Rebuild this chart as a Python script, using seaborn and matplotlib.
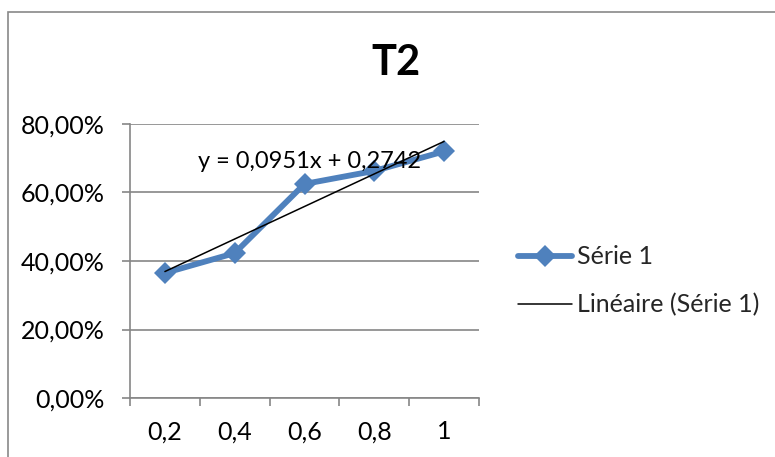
import matplotlib
matplotlib.use("Agg")
import matplotlib.pyplot as plt
import matplotlib.patches as mpatches
from matplotlib.ticker import FixedLocator, FuncFormatter
import numpy as np
import pandas as pd
import seaborn as sns

# ---- data ----
categories = ["0,2", "0,4", "0,6", "0,8", "1"]
serie1 = [0.365, 0.423, 0.625, 0.663, 0.720]
y_ticks = [0.0, 0.2, 0.4, 0.6, 0.8]
y_tick_labels = ["0,00%", "20,00%", "40,00%", "60,00%", "80,00%"]
title = "T2"
series_label = "Série 1"
trend_label = "Linéaire (Série 1)"
equation = "y = 0,0951x + 0,2742"

df = pd.DataFrame({"pos": np.arange(len(categories)), "val": serie1})

sns.set_theme(style="white")
plt.rcParams["font.family"] = ["Lato", "DejaVu Sans"]

W, H = 775, 457
fig = plt.figure(figsize=(W / 100, H / 100), dpi=100)
fig.patch.set_facecolor("white")

# outer chart frame (right/bottom edges cut off)
frame = mpatches.Rectangle((8 / W, -0.2), 2.0, (H - 12) / H + 0.2,
                           transform=fig.transFigure, fill=False,
                           edgecolor="#898989", linewidth=1.2)
fig.patches.append(frame)

ax = fig.add_axes([130 / W, 1 - 398 / H, (479 - 130) / W, (398 - 124) / H])
ax.set_facecolor("white")

blue = "#4F81BD"
grid_c = "#868686"
fs = 18

sns.lineplot(data=df, x="pos", y="val", ax=ax, color=blue, linewidth=4.2,
             marker="D", markersize=11, markeredgewidth=0, label=series_label,
             zorder=3)
sns.regplot(data=df, x="pos", y="val", ax=ax, ci=None, scatter=False,
            line_kws=dict(color="black", linewidth=1.1, zorder=4),
            label=trend_label)

ax.set_xlim(-0.5, len(categories) - 0.5)
ax.set_ylim(0, 0.8)
ax.set_xlabel("")
ax.set_ylabel("")

# y axis
ax.yaxis.set_major_locator(FixedLocator(y_ticks))
ax.set_yticklabels(y_tick_labels)
ax.yaxis.grid(True, color=grid_c, linewidth=1.2)
ax.xaxis.grid(False)
ax.tick_params(axis="y", which="major", direction="out", length=6, width=1.2,
               color=grid_c, pad=12, labelsize=fs, labelcolor="black", left=True)

# x axis: boundary ticks (major) and centred labels (minor)
ax.xaxis.set_major_locator(FixedLocator(np.arange(len(categories) + 1) - 0.5))
ax.xaxis.set_major_formatter(FuncFormatter(lambda v, p: ""))
ax.xaxis.set_minor_locator(FixedLocator(np.arange(len(categories))))
ax.xaxis.set_minor_formatter(FuncFormatter(lambda v, p: categories[int(round(v))]))
ax.tick_params(axis="x", which="major", direction="out", length=6, width=1.2,
               color=grid_c, bottom=True)
ax.tick_params(axis="x", which="minor", length=0, pad=16, labelsize=fs,
               labelcolor="black", bottom=True)

for s in ["top", "right"]:
    ax.spines[s].set_visible(False)
for s in ["left", "bottom"]:
    ax.spines[s].set_color(grid_c)
    ax.spines[s].set_linewidth(1.2)

# equation label
fig.text(198 / W, 1 - 162 / H, equation, ha="left", va="center",
         fontsize=17, color="black", zorder=5)

# title
fig.text(396 / W, 1 - 63 / H, title, ha="center", va="center",
         fontsize=30, fontweight="bold", color="black")

# legend
if ax.get_legend() is not None:
    ax.get_legend().remove()
lines = ax.get_lines()
h_series = lines[0]
h_trend = lines[1]
fig.legend([h_series, h_trend], [series_label, trend_label],
           loc="center left", bbox_to_anchor=(518 / W, 1 - 281 / H),
           frameon=False, fontsize=fs, handlelength=2.16, handletextpad=0.2,
           labelspacing=1.0, numpoints=1, borderaxespad=0, borderpad=0)

fig.savefig("out.png", dpi=100, facecolor="white")
